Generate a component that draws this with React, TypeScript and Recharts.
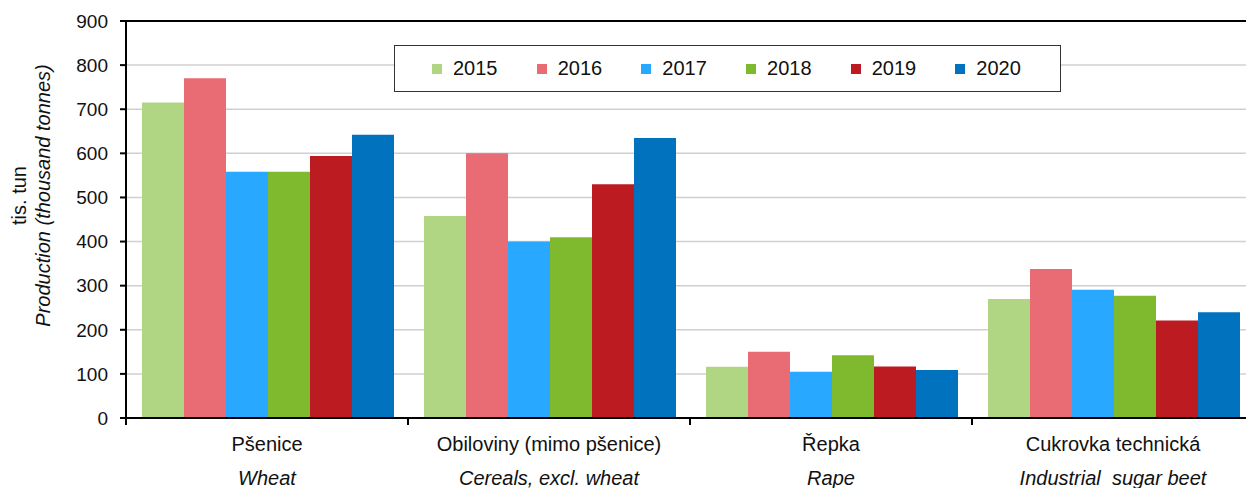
import { BarChart, Bar, XAxis, YAxis, CartesianGrid, Legend, ReferenceLine } from "recharts";

const categoriesCz = ["Pšenice", "Obiloviny (mimo pšenice)", "Řepka", "Cukrovka technická"];
const categoriesEn = ["Wheat", "Cereals, excl. wheat", "Rape", "Industrial  sugar beet"];

const years = ["2015", "2016", "2017", "2018", "2019", "2020"];
const colors = ["#b0d684", "#e96c75", "#29a8ff", "#7fba2e", "#bd1b22", "#0072be"];

const values2015 = [715, 458, 116, 270];
const values2016 = [770, 600, 150, 338];
const values2017 = [558, 400, 105, 291];
const values2018 = [558, 410, 142, 277];
const values2019 = [594, 530, 117, 221];
const values2020 = [642, 635, 109, 240];

const yTicks = [0, 100, 200, 300, 400, 500, 600, 700, 800, 900];

const series = [values2015, values2016, values2017, values2018, values2019, values2020];

const data = categoriesCz.map((name, i) => {
  const row: Record<string, string | number> = { name, en: categoriesEn[i] };
  years.forEach((y, j) => {
    row[y] = series[j][i];
  });
  return row;
});

const FONT = "'Liberation Sans', Arial, sans-serif";

// category label (two lines) plus tick marks on the category borders
function CategoryTick(props: any) {
  const { x, y, payload, index, visibleTicksCount } = props;
  const half = payload && typeof payload.offset === "number" && payload.offset > 0 ? payload.offset : 141;
  const en = categoriesEn[categoriesCz.indexOf(payload.value)] ?? "";
  return (
    <g>
      <line x1={x - half} x2={x - half} y1={y} y2={y + 7} stroke="#000" strokeWidth={2} />
      {index === visibleTicksCount - 1 && (
        <line x1={x + half} x2={x + half} y1={y} y2={y + 7} stroke="#000" strokeWidth={2} />
      )}
      <text x={x} y={y + 33} textAnchor="middle" fontSize={20} fill="#111" fontFamily={FONT}>
        {payload.value}
      </text>
      <text
        x={x}
        y={y + 67}
        textAnchor="middle"
        fontSize={20}
        fill="#111"
        fontStyle="italic"
        fontFamily={FONT}
        style={{ whiteSpace: "pre" }}
      >
        {en}
      </text>
    </g>
  );
}

function YTitle(props: any) {
  const vb = props.viewBox || { x: 0, y: 21, width: 126, height: 397 };
  const cy = vb.y + vb.height / 2 - 24;
  return (
    <g fontFamily={FONT} fontSize={20} fill="#111">
      <text x={19} y={cy} textAnchor="middle" dominantBaseline="central" transform={`rotate(-90, 19, ${cy})`}>
        tis. tun
      </text>
      <text
        x={43}
        y={cy}
        textAnchor="middle"
        dominantBaseline="central"
        fontStyle="italic"
        transform={`rotate(-90, 43, ${cy})`}
      >
        Production (thousand tonnes)
      </text>
    </g>
  );
}

function YearLegend() {
  return (
    <div
      style={{
        boxSizing: "border-box",
        width: 667,
        height: 47,
        border: "1.5px solid #333",
        background: "#fff",
        display: "flex",
        alignItems: "center",
        paddingLeft: 37,
        fontFamily: FONT,
        fontSize: 20,
        color: "#111",
      }}
    >
      {years.map((y, i) => (
        <div key={y} style={{ width: 106.2, display: "flex", alignItems: "center" }}>
          <span style={{ width: 10, height: 10, background: colors[i], marginRight: 11, display: "inline-block" }} />
          <span>{y}</span>
        </div>
      ))}
    </div>
  );
}

export default function App() {
  return (
    <div style={{ position: "absolute", left: 0, top: 0, width: 1246, height: 488, overflow: "hidden", background: "#fff" }}>
      <BarChart
        width={1266}
        height={488}
        data={data}
        margin={{ top: 21, right: 12, bottom: 0, left: 0 }}
        barCategoryGap={16}
        barGap={0}
      >
        <CartesianGrid vertical={false} stroke="#d0d0d0" strokeWidth={1.5} />
        <XAxis
          dataKey="name"
          height={70}
          interval={0}
          tickLine={false}
          tickSize={0}
          tickMargin={0}
          axisLine={{ stroke: "#000", strokeWidth: 2 }}
          tick={<CategoryTick />}
        />
        <YAxis
          width={126}
          domain={[0, 900]}
          ticks={yTicks}
          interval={0}
          tickSize={6}
          tickMargin={12}
          axisLine={{ stroke: "#000", strokeWidth: 2 }}
          tickLine={{ stroke: "#000", strokeWidth: 2 }}
          tick={{ fontSize: 19, fill: "#111", fontFamily: FONT }}
          label={{ content: <YTitle /> }}
        />
        <ReferenceLine y={900} stroke="#000" strokeWidth={2} />
        <Legend
          layout="vertical"
          align="center"
          verticalAlign="middle"
          content={<YearLegend />}
          wrapperStyle={{ position: "absolute", left: 394, top: 45, width: 667, height: 47 }}
        />
        {years.map((y, i) => (
          <Bar key={y} dataKey={y} fill={colors[i]} isAnimationActive={false} />
        ))}
      </BarChart>
    </div>
  );
}
